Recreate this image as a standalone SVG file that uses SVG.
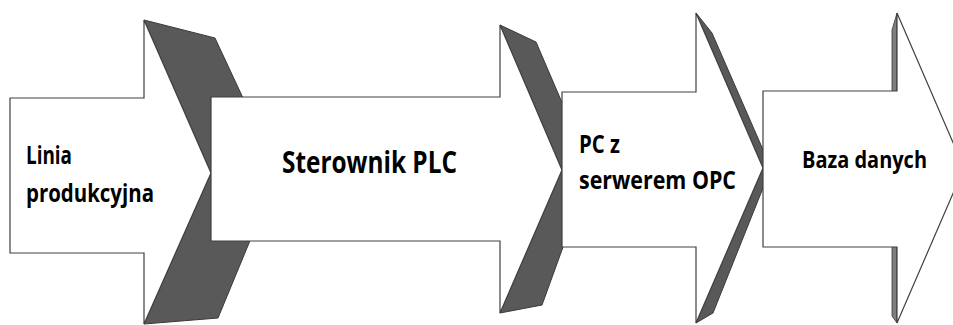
<svg xmlns="http://www.w3.org/2000/svg" width="953" height="325" viewBox="0 0 953 325">
<style>
.arrow{fill:#ffffff;stroke:#404040;stroke-width:1.2;stroke-linejoin:miter}
.shadow{fill:#595959;stroke:#3a3a3a;stroke-width:1}
.strip{fill:#7f7f7f;stroke:#3a3a3a;stroke-width:0.8}
.lbl{font-family:"Open Sans","Noto Sans","Liberation Sans",sans-serif;font-weight:bold;fill:#000000}
</style>
<rect width="953" height="325" fill="#ffffff"/>
<g id="connectors"></g>
<g id="node-linia">
<polygon class="shadow" points="144,20 215,38 278,173 218,318 144,324 211,173"/>
<path class="arrow" d="M10,98 H144 V20 L211,173 L144,324 V253 H10 Z"/>
<text class="lbl" x="26" y="164" font-size="24.5" textLength="46" lengthAdjust="spacingAndGlyphs">Linia</text>
<text class="lbl" x="26" y="202" font-size="24.5" textLength="128" lengthAdjust="spacingAndGlyphs">produkcyjna</text>
</g>
<g id="node-plc">
<polygon class="shadow" points="500,25 536,42 591,170 542,305 500,313 562,170"/>
<path class="arrow" d="M211,97 H500 V25 L562,170 L500,313 V241 H211 Z"/>
<text class="lbl" x="282" y="173" font-size="29.5" textLength="175" lengthAdjust="spacingAndGlyphs">Sterownik PLC</text>
</g>
<g id="node-opc">
<polygon class="shadow" points="696,13 712,33 771,168 713,313 696,323 763,168"/>
<path class="arrow" d="M562,92 H696 V13 L763,168 L696,323 V247 H562 Z"/>
<text class="lbl" x="579" y="153" font-size="24.5" textLength="41" lengthAdjust="spacingAndGlyphs">PC z</text>
<text class="lbl" x="579" y="189" font-size="24.5" textLength="157" lengthAdjust="spacingAndGlyphs">serwerem OPC</text>
</g>
<g id="node-baza">
<polygon class="strip" points="897,13 892,30 892,316 897,323"/>
<path class="arrow" d="M763,91 H897 V13 L964,168 L897,323 V247 H763 Z"/>
<text class="lbl" x="802" y="168" font-size="23.5" textLength="125" lengthAdjust="spacingAndGlyphs">Baza danych</text>
</g>
</svg>
